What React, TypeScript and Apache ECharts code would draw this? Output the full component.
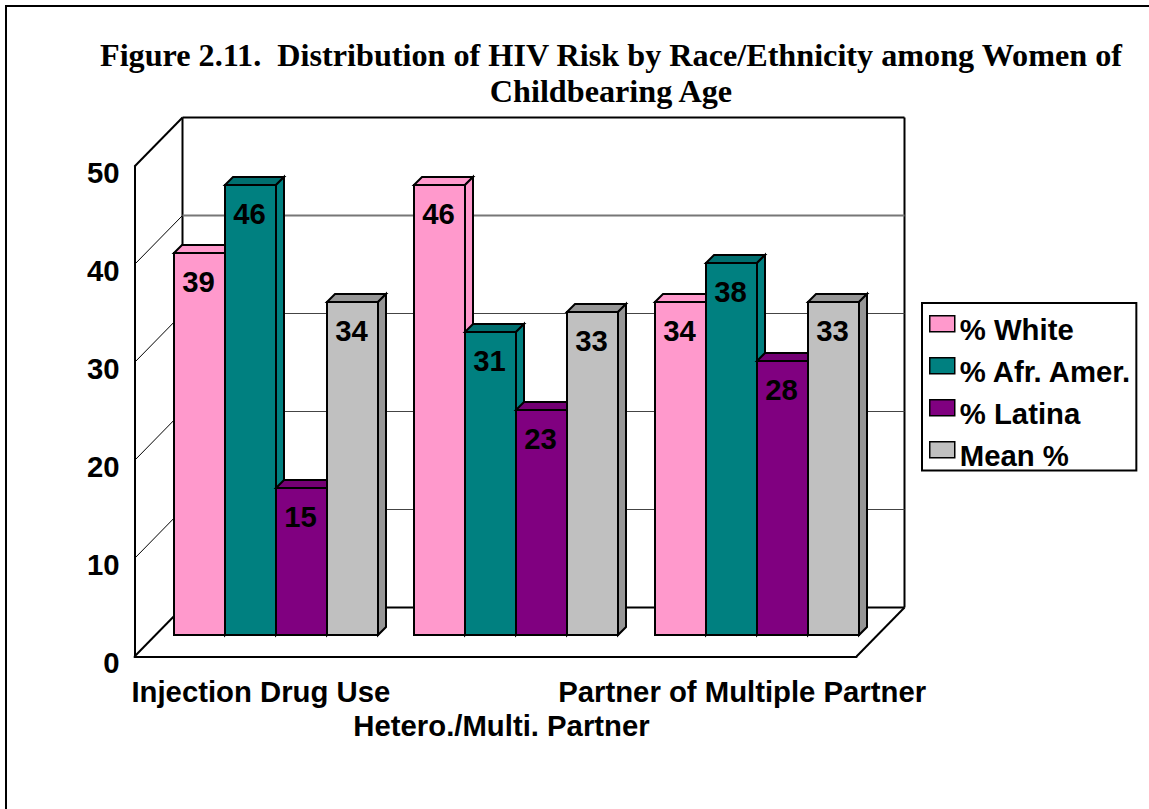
import React, { useEffect, useRef } from "react";
import * as echarts from "echarts";

const titleText = "Figure 2.11.  Distribution of HIV Risk by Race/Ethnicity among Women of\nChildbearing Age";
const categories = ["Injection Drug Use", "Hetero./Multi. Partner", "Partner of Multiple Partner"];
const white = [39, 46, 34];
const afrAmer = [46, 31, 38];
const latina = [15, 23, 28];
const meanPct = [34, 33, 34];
const whiteLabels = ["39", "46", "34"];
const afrAmerLabels = ["46", "31", "38"];
const latinaLabels = ["15", "23", "28"];
const meanLabels = ["34", "33", "33"];
const wallTicks = [0, 10, 20, 30, 40, 50];
const seriesNames = ["% White", "% Afr. Amer.", "% Latina", "Mean %"];
const seriesValues = [white, afrAmer, latina, meanPct];
const seriesLabels = [whiteLabels, afrAmerLabels, latinaLabels, meanLabels];
const frontColors = ["#FF99CC", "#008080", "#800080", "#C0C0C0"];
const topColors = ["#FF99CC", "#006F6F", "#740074", "#969696"];
const sideColors = ["#FF99CC", "#008080", "#800080", "#969696"];

const SANS = '"Liberation Sans", Arial, sans-serif';
const SERIF = '"Liberation Serif", "Times New Roman", serif';
const FONT_SIZE = 29.3;
const WALL_DX = 48;
const WALL_DY = 49;
const BAR_DX = 20.67;
const BAR_DY = 21.5;
const BAR_W = 51;
const BAR_D = 8;

export default function App() {
  const ref = useRef<HTMLDivElement>(null);
  useEffect(() => {
    document.body.style.margin = "0";
    const chart = echarts.init(ref.current!, undefined, { renderer: "svg" });

    const frameSeries = {
      type: "custom",
      name: "frame",
      silent: true,
      clip: false,
      z: 1,
      encode: { x: 0, y: 1 },
      data: wallTicks.map((v) => [0, v]),
      renderItem: (params: any, api: any) => {
        const v = api.value(1);
        const rect = params.coordSys;
        const y = Math.floor(api.coord([0, v])[1]) + 0.5;
        const x0 = rect.x;
        const x1 = rect.x + rect.width;
        const bx0 = x0 + WALL_DX;
        const bx1 = x1 + WALL_DX;
        const by = y - WALL_DY;
        const line = { stroke: "#000", lineWidth: 1, fill: "none" };
        const thick = { stroke: "#000", lineWidth: 2, fill: "none" };
        const grid = v === 40 ? { stroke: "#777", lineWidth: 2, fill: "none" } : { stroke: "#444", lineWidth: 1, fill: "none" };
        const children: any[] = [
          { type: "line", shape: { x1: x0, y1: y, x2: bx0, y2: by }, style: v === 0 || v === 50 ? thick : line },
          { type: "line", shape: { x1: bx0, y1: by, x2: bx1, y2: by }, style: v === 0 || v === 50 ? thick : grid },
        ];
        if (v === 0) {
          children.push({ type: "line", shape: { x1: x1, y1: y, x2: bx1, y2: by }, style: thick });
          children.push({ type: "line", shape: { x1: bx0, y1: by, x2: bx0, y2: by - rect.height }, style: thick });
          children.push({ type: "line", shape: { x1: bx1, y1: by, x2: bx1, y2: by - rect.height }, style: thick });
        }
        return { type: "group", children };
      },
    };

    const barSeries = seriesNames.map((name, s) => ({
      type: "custom",
      name,
      silent: true,
      clip: false,
      z: 2,
      itemStyle: { color: frontColors[s] },
      encode: { x: 0, y: 1 },
      data: seriesValues[s].map((v, i) => [i, v]),
      renderItem: (_params: any, api: any) => {
        const cat = api.value(0);
        const val = api.value(1);
        const [cx, y0] = api.coord([cat, 0]);
        const yv = api.coord([cat, val])[1];
        const x = Math.round(cx + BAR_DX + (s - 2) * BAR_W);
        const yTop = Math.ceil(yv - BAR_DY);
        const yBase = Math.round(y0 - BAR_DY);
        const edge = { stroke: "#000", lineWidth: 2, lineJoin: "miter" };
        return {
          type: "group",
          children: [
            {
              type: "polygon",
              shape: { points: [[x, yTop], [x + BAR_D, yTop - BAR_D], [x + BAR_W + BAR_D, yTop - BAR_D], [x + BAR_W, yTop]] },
              style: { fill: topColors[s], ...edge },
            },
            {
              type: "polygon",
              shape: { points: [[x + BAR_W, yTop], [x + BAR_W + BAR_D, yTop - BAR_D], [x + BAR_W + BAR_D, yBase - BAR_D], [x + BAR_W, yBase]] },
              style: { fill: sideColors[s], ...edge },
            },
            {
              type: "rect",
              shape: { x, y: yTop, width: BAR_W, height: yBase - yTop },
              style: { fill: frontColors[s], ...edge },
            },
            {
              type: "text",
              style: {
                x: x + BAR_W / 2 - 1,
                y: yTop + 28.5,
                text: seriesLabels[s][cat],
                fill: "#000",
                font: `bold ${FONT_SIZE}px ${SANS}`,
                align: "center",
                verticalAlign: "middle",
              },
            },
          ],
        };
      },
    }));

    chart.setOption({
      animation: false,
      backgroundColor: "#fff",
      title: {
        text: titleText,
        left: 611,
        top: 37,
        padding: 0,
        textAlign: "center",
        textStyle: { fontFamily: SERIF, fontWeight: "bold", fontSize: 32.2, lineHeight: 36, color: "#000" },
      },
      grid: { left: 134.5, top: 166.5, width: 722, height: 490 },
      xAxis: {
        type: "category",
        data: categories,
        axisTick: { show: false },
        axisLine: { lineStyle: { color: "#000", width: 2 } },
        axisLabel: {
          interval: 0,
          margin: 18,
          color: "#000",
          fontFamily: SANS,
          fontWeight: "bold",
          fontSize: FONT_SIZE,
          lineHeight: 34,
          padding: [0, 0, 0, 12],
          formatter: (v: string, i: number) => (i === 1 ? "\n" + v : v),
        },
      },
      yAxis: {
        type: "value",
        min: 0,
        max: 50,
        interval: 10,
        splitLine: { show: false },
        axisTick: { show: false },
        axisLine: { show: true, lineStyle: { color: "#000", width: 2 } },
        axisLabel: {
          margin: 15,
          color: "#000",
          fontFamily: SANS,
          fontWeight: "bold",
          fontSize: FONT_SIZE,
          verticalAlign: "top",
          lineHeight: 12,
        },
      },
      legend: {
        data: seriesNames,
        orient: "vertical",
        left: 922,
        top: 303,
        icon: "path://M0 0H25V16H0Z M0 28L0 28",
        itemWidth: 25,
        itemHeight: 28,
        itemGap: 12.5,
        padding: [12, 4, 0, 7],
        borderColor: "#000",
        borderWidth: 2,
        backgroundColor: "#fff",
        selectedMode: false,
        itemStyle: { borderColor: "#000", borderWidth: 1.5 },
        textStyle: {
          color: "#000",
          fontFamily: SANS,
          fontWeight: "bold",
          fontSize: FONT_SIZE,
          lineHeight: 28,
        },
      },
      graphic: [
        { type: "line", shape: { x1: 5, y1: 6, x2: 1149, y2: 6 }, style: { stroke: "#000", lineWidth: 2 } },
        { type: "line", shape: { x1: 6, y1: 5, x2: 6, y2: 809 }, style: { stroke: "#000", lineWidth: 2 } },
      ],
      series: [frameSeries, ...barSeries],
    });
    return () => chart.dispose();
  }, []);
  return <div ref={ref} style={{ width: 1149, height: 809 }} />;
}
